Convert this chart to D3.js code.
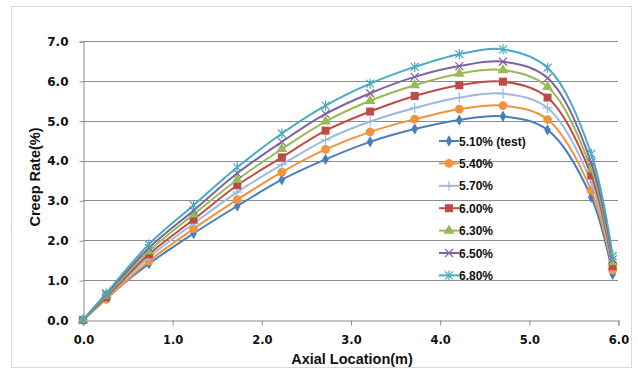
<!DOCTYPE html>
<html>
<head>
<meta charset="utf-8">
<script src="https://cdn.jsdelivr.net/npm/d3@7/dist/d3.min.js"></script>
<style>
  body { margin: 0; background: #fff; }
  svg { display: block; }
</style>
</head>
<body>
<div class="chart"></div>
<script>
// axial node positions (m)
const axialLocation = [0, 0.26, 0.74, 1.24, 1.73, 2.23, 2.72, 3.22, 3.72, 4.22, 4.71, 5.21, 5.70, 5.94];

const seriesNames = ['5.10% (test)', '5.40%', '5.70%', '6.00%', '6.30%', '6.50%', '6.80%'];

// creep rate (%) per case
const rate510 = [0, 0.54, 1.41, 2.17, 2.86, 3.52, 4.03, 4.47, 4.79, 5.02, 5.11, 4.77, 3.08, 1.15];
const rate540 = [0, 0.52, 1.48, 2.29, 3.02, 3.71, 4.28, 4.72, 5.04, 5.29, 5.38, 5.03, 3.25, 1.25];
const rate570 = [0, 0.56, 1.57, 2.42, 3.21, 3.90, 4.52, 4.98, 5.32, 5.58, 5.68, 5.32, 3.45, 1.30];
const rate600 = [0, 0.57, 1.65, 2.52, 3.38, 4.08, 4.75, 5.23, 5.62, 5.89, 5.98, 5.58, 3.63, 1.35];
const rate630 = [0, 0.61, 1.73, 2.65, 3.52, 4.29, 4.98, 5.50, 5.89, 6.18, 6.27, 5.85, 3.78, 1.45];
const rate650 = [0, 0.64, 1.81, 2.75, 3.68, 4.47, 5.17, 5.69, 6.10, 6.37, 6.48, 6.07, 3.95, 1.52];
const rate680 = [0, 0.67, 1.90, 2.88, 3.83, 4.68, 5.38, 5.93, 6.35, 6.67, 6.79, 6.33, 4.17, 1.60];

const xTicks = [0, 1, 2, 3, 4, 5, 6];
const yTicks = [0, 1, 2, 3, 4, 5, 6, 7];

const palette = ['#4a7ebb', '#f0923e', '#9db9e0', '#be4b48', '#98b954', '#7f62a1', '#46aac4'];
const markers = ['diamond', 'circle', 'plus', 'square', 'triangle', 'cross', 'star'];

const width = 638, height = 371;
const margin = {left: 83, right: 20, top: 41, bottom: 51};

const series = [rate510, rate540, rate570, rate600, rate630, rate650, rate680].map((vals, i) => ({
    name: seriesNames[i],
    color: palette[i],
    marker: markers[i],
    values: vals.map((v, j) => ({x: axialLocation[j], y: v}))
}));

const svg = d3.select('.chart').append('svg')
    .attr('width', width)
    .attr('height', height);

// chart border
svg.append('rect')
    .attr('x', 11.5).attr('y', 6.5)
    .attr('width', 620).attr('height', 361)
    .attr('fill', 'none')
    .attr('stroke', '#d9d9d9');

const x = d3.scaleLinear().domain([0, 6]).range([margin.left, width - margin.right]);
const y = d3.scaleLinear().domain([0, 7]).range([height - margin.bottom, margin.top]);

// gridlines
svg.append('g')
    .selectAll('line')
    .data(yTicks.slice(1))
    .enter()
    .append('line')
    .attr('x1', x(0)).attr('x2', x(6))
    .attr('y1', d => Math.round(y(d)) + 0.5)
    .attr('y2', d => Math.round(y(d)) + 0.5)
    .attr('stroke', '#8c8c8c')
    .attr('stroke-width', 1);

const yAxis = svg.append('g')
    .attr('transform', `translate(${x(0) + 0.5},0.5)`)
    .call(d3.axisLeft(y).tickValues(yTicks).tickSize(4).tickPadding(11).tickFormat(d3.format('.1f')));

const xAxis = svg.append('g')
    .attr('transform', `translate(0.5,${y(0) + 0.5})`)
    .call(d3.axisBottom(x).tickValues(xTicks).tickSize(5).tickPadding(10).tickFormat(d3.format('.1f')));

[yAxis, xAxis].forEach(a => {
    a.select('.domain').attr('stroke', '#8c8c8c');
    a.selectAll('.tick line').attr('stroke', '#8c8c8c');
    a.selectAll('text')
        .attr('fill', '#111')
        .style('font-family', '"DejaVu Sans", Verdana, sans-serif')
        .style('font-weight', 'bold');
});
yAxis.selectAll('text').style('font-size', '12px');
xAxis.selectAll('text').style('font-size', '11.5px');

// axis titles
svg.append('text')
    .attr('transform', `translate(40,177) rotate(-90)`)
    .attr('text-anchor', 'middle')
    .style('font-family', '"Liberation Sans", Arial, sans-serif')
    .style('font-weight', 'bold')
    .style('font-size', '14.5px')
    .attr('fill', '#111')
    .text('Creep Rate(%)');

svg.append('text')
    .attr('x', 352).attr('y', 364)
    .attr('text-anchor', 'middle')
    .style('font-family', '"Liberation Sans", Arial, sans-serif')
    .style('font-weight', 'bold')
    .style('font-size', '14.5px')
    .attr('fill', '#111')
    .text('Axial Location(m)');

// marker drawing
function drawMarker(g, type, color) {
    if (type === 'diamond') {
        g.append('path').attr('d', d3.symbol(d3.symbolDiamond, 38)()).attr('fill', color);
    } else if (type === 'circle') {
        g.append('path').attr('d', d3.symbol(d3.symbolCircle, 60)()).attr('fill', color);
    } else if (type === 'square') {
        g.append('path').attr('d', d3.symbol(d3.symbolSquare, 64)()).attr('fill', color);
    } else if (type === 'triangle') {
        g.append('path').attr('d', d3.symbol(d3.symbolTriangle, 50)()).attr('fill', color);
    } else if (type === 'plus') {
        g.append('path').attr('d', 'M-5,0H5M0,-5V5').attr('stroke', color).attr('stroke-width', 1.2);
    } else if (type === 'cross') {
        g.append('path').attr('d', 'M-4,-4L4,4M-4,4L4,-4').attr('stroke', color).attr('stroke-width', 1.2);
    } else if (type === 'star') {
        g.append('path').attr('d', 'M-4,-4L4,4M-4,4L4,-4M0,-5V5').attr('stroke', color).attr('stroke-width', 1.2);
    }
}

const line = d3.line()
    .x(d => x(d.x))
    .y(d => y(d.y))
    .curve(d3.curveCatmullRom.alpha(0.5));

const seriesG = svg.append('g')
    .selectAll('g')
    .data(series)
    .enter()
    .append('g');

seriesG.append('path')
    .attr('d', d => line(d.values))
    .attr('fill', 'none')
    .attr('stroke', d => d.color)
    .attr('stroke-width', 2);

seriesG.each(function(s) {
    d3.select(this).selectAll('g.pt')
        .data(s.values)
        .enter()
        .append('g')
        .attr('class', 'pt')
        .attr('transform', d => `translate(${x(d.x)},${y(d.y)})`)
        .each(function() { drawMarker(d3.select(this), s.marker, s.color); });
});

// legend
const legend = svg.append('g').attr('transform', 'translate(439,141)');
const items = legend.selectAll('g')
    .data(series)
    .enter()
    .append('g')
    .attr('transform', (d, i) => `translate(0,${i * 22.4})`);

items.append('line')
    .attr('x1', 0).attr('x2', 20)
    .attr('stroke', d => d.color)
    .attr('stroke-width', 2);

items.append('g')
    .attr('transform', 'translate(10,0)')
    .each(function(d) { drawMarker(d3.select(this), d.marker, d.color); });

items.append('text')
    .attr('x', 20).attr('y', 4.5)
    .style('font-family', '"Liberation Sans", Arial, sans-serif')
    .style('font-weight', 'bold')
    .style('font-size', '12px')
    .attr('fill', '#111')
    .text(d => d.name);
</script>
</body>
</html>
